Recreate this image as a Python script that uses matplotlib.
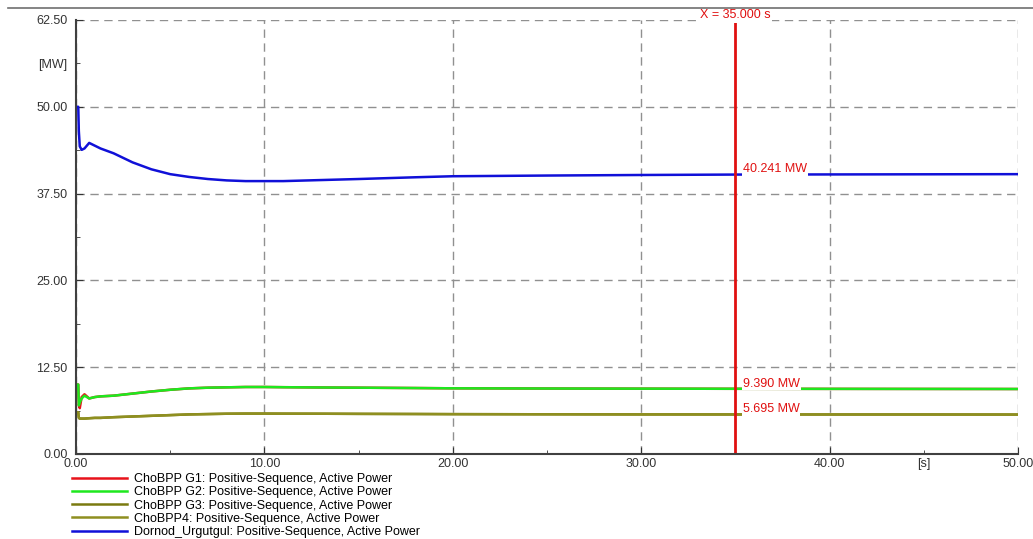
import matplotlib.pyplot as plt
from matplotlib.lines import Line2D

plt.rcParams['font.family'] = ['Liberation Sans', 'DejaVu Sans']

# time axis [s] and series [MW]
t = [0.0, 0.12, 0.15, 0.2, 0.3, 0.45, 0.7, 1.0, 1.3, 2.0, 3.0, 4.0, 5.0, 6.0, 7.0, 8.0,
     9.0, 10.0, 11.0, 13.0, 15.0, 18.0, 20.0, 25.0, 30.0, 35.0, 40.0, 45.0, 50.0]
dornod = [50.0, 50.0, 46.5, 44.3, 43.8, 44.0, 44.8, 44.4, 44.0, 43.3, 42.0, 41.0, 40.3, 39.9, 39.6, 39.4,
          39.3, 39.3, 39.3, 39.45, 39.6, 39.85, 40.0, 40.1, 40.18, 40.241, 40.26, 40.28, 40.3]
g1 = [10.0, 10.0, 7.0, 6.6, 8.2, 8.6, 8.0, 8.2, 8.3, 8.4, 8.7, 9.0, 9.25, 9.45, 9.55, 9.6,
      9.65, 9.65, 9.62, 9.58, 9.55, 9.5, 9.46, 9.43, 9.41, 9.39, 9.38, 9.37, 9.36]
g2 = [10.0, 10.0, 7.0, 7.4, 8.0, 8.4, 8.0, 8.2, 8.3, 8.4, 8.7, 9.0, 9.25, 9.45, 9.55, 9.6,
      9.65, 9.65, 9.62, 9.58, 9.55, 9.5, 9.46, 9.43, 9.41, 9.39, 9.38, 9.37, 9.36]
g3 = [6.0, 6.0, 5.2, 5.1, 5.1, 5.1, 5.15, 5.2, 5.2, 5.3, 5.4, 5.5, 5.6, 5.7, 5.75, 5.8,
      5.82, 5.82, 5.81, 5.8, 5.78, 5.76, 5.74, 5.72, 5.7, 5.695, 5.69, 5.69, 5.68]
g4 = g3

series = [
    ("ChoBPP G1: Positive-Sequence, Active Power", g1, "#e8121a"),
    ("ChoBPP G2: Positive-Sequence, Active Power", g2, "#1ee81e"),
    ("ChoBPP G3: Positive-Sequence, Active Power", g3, "#7a7a10"),
    ("ChoBPP4: Positive-Sequence, Active Power", g4, "#8f8f20"),
    ("Dornod_Urgutgul: Positive-Sequence, Active Power", dornod, "#1010d8"),
]

cursor_x = 35.0
cursor_labels = [(40.241, "40.241 MW"), (9.390, "9.390 MW"), (5.695, "5.695 MW")]

fs = 9
fig = plt.figure(figsize=(10.33, 5.39), dpi=100)
ax = fig.add_axes([76 / 1033, 1 - 454 / 539, (1018 - 76) / 1033, (454 - 20) / 539])

for label, vals, color in series:
    ax.plot(t, vals, color=color, lw=1.8, label=label)

ax.set_xlim(0, 50)
ax.set_ylim(0, 62.5)

xt = [0, 10, 20, 30, 40, 50]
yt = [0, 12.5, 25, 37.5, 50, 62.5]
ax.set_xticks(xt)
ax.set_xticklabels([f"{v:.2f}" for v in xt])
ax.set_yticks(yt)
ax.set_yticklabels([f"{v:.2f}" for v in yt])
ax.set_xticks([5, 15, 25, 35, 45], minor=True)
ax.set_xticklabels(["", "", "", "", "[s]"], minor=True)
ax.set_yticks([6.25, 18.75, 31.25, 43.75, 56.25], minor=True)
ax.set_yticklabels(["", "", "", "", "[MW]"], minor=True)
ax.tick_params(which='both', direction='in', labelsize=fs, colors='#333333')
ax.tick_params(axis='y', which='both', pad=6)
ax.tick_params(axis='x', which='both', pad=3)
ax.tick_params(which='major', length=5)
ax.tick_params(which='minor', length=3)

ax.grid(True, which='major', color='#909090', ls=(0, (6, 4)), lw=1.0)
for s in ['top', 'right']:
    ax.spines[s].set_visible(False)
for s in ['left', 'bottom']:
    ax.spines[s].set_color('#404040')
    ax.spines[s].set_linewidth(1.5)

# cursor
ax.axvline(cursor_x, color='#e01010', lw=2)
ax.text(cursor_x, 63.2, "X = 35.000 s", color='#e01010', fontsize=fs, ha='center', va='center',
        bbox=dict(facecolor='white', edgecolor='none', pad=1))
for yv, txt in cursor_labels:
    ax.text(cursor_x + 0.4, yv + 0.75, txt, color='#e01010', fontsize=fs, ha='left', va='center',
            bbox=dict(facecolor='white', edgecolor='none', pad=0.5))

fig.legend(loc='upper left', bbox_to_anchor=(72 / 1033, 1 - 473 / 539), frameon=False,
           fontsize=fs, handlelength=4.4, labelspacing=0.1, borderpad=0, handletextpad=0.6,
           borderaxespad=0)

fig.add_artist(Line2D([8 / 1033, 1], [1 - 8 / 539, 1 - 8 / 539], color='#707070', lw=1.2))

fig.savefig("out.png", dpi=100)
